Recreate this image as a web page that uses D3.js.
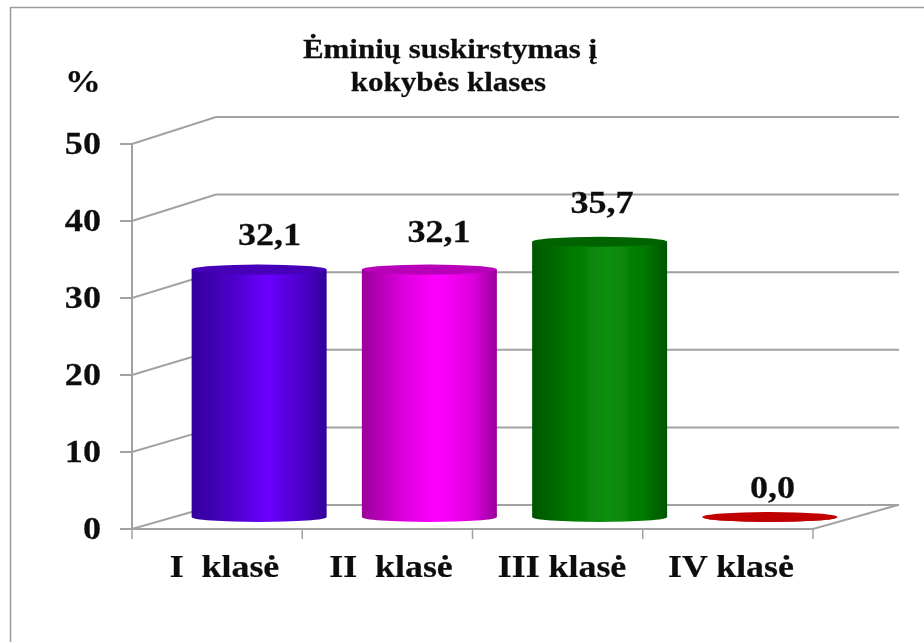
<!DOCTYPE html>
<html lang="en">
<head>
    <meta charset="UTF-8">
    <title>Eminiu suskirstymas</title>
    <script src="https://cdn.jsdelivr.net/npm/d3@7"></script>
    <style>
        html, body { margin: 0; padding: 0; background: #fff; }
        svg { display: block; }
        text { font-family: "Liberation Serif", serif; font-weight: bold; fill: #111; stroke: #111; stroke-width: 0.25px; }
    </style>
</head>
<body>
<div id="chart"></div>
<script>
    var categories = ['I  klasė', 'II  klasė', 'III klasė', 'IV klasė'];
    var values = [32.1, 32.1, 35.7, 0.0];
    var valueLabels = ['32,1', '32,1', '35,7', '0,0'];
    var yTicks = [0, 10, 20, 30, 40, 50];
    var titleLines = ['Ėminių suskirstymas į', 'kokybės klases'];
    // edge, mid, centre colour of each cylinder, then its top cap
    var barColors = [
        ['#32009a', '#4c00c8', '#6a06ff', '#4400b8'],
        ['#9a009a', '#dc00dc', '#ff00ff', '#b800b8'],
        ['#005400', '#007a00', '#0f900f', '#006400'],
        ['#c00000', '#c00000', '#c80000', '#c00000']
    ];

    var w = 924, h = 642;
    var grid = '#a2a2a2';
    var depthX = 84;

    var svg = d3.select('#chart').append('svg').attr('width', w).attr('height', h);
    var defs = svg.append('defs');
    // the reference is a slightly soft screenshot
    defs.append('filter').attr('id', 'soft')
        .attr('filterUnits', 'userSpaceOnUse')
        .attr('x', 0).attr('y', 0).attr('width', w).attr('height', h)
        .append('feGaussianBlur').attr('stdDeviation', 0.5);
    var root = svg.append('g').attr('filter', 'url(#soft)');

    // front plane and back wall have their own y scales
    var yFront = d3.scaleLinear().domain([0, 50]).range([529, 144]);
    var yBack = d3.scaleLinear().domain([0, 50]).range([505, 117]);
    var yBar = d3.scaleLinear().domain([0, 50]).range([517, 131.5]);
    var x = d3.scaleBand().domain(categories).range([132, 813]);
    var barW = 135;
    var capRy = 5;

    // picture frame
    root.append('path')
        .attr('d', 'M924,7.5H10.5V642')
        .attr('fill', 'none').attr('stroke', '#9a9a9a').attr('stroke-width', 1.5);

    // side wall + back wall gridlines
    root.selectAll('.grid').data(yTicks).enter().append('path')
        .attr('class', 'grid')
        .attr('fill', 'none').attr('stroke', grid).attr('stroke-width', 2)
        .attr('d', function(d) {
            return 'M120,' + yFront(d) + 'H132L216,' + yBack(d) + 'H899';
        });

    // left vertical, floor front edge and right floor edge
    root.append('line')
        .attr('x1', 132).attr('x2', 132)
        .attr('y1', yFront(50)).attr('y2', yFront(0))
        .attr('stroke', grid).attr('stroke-width', 2);
    root.append('path')
        .attr('d', 'M132,' + yFront(0) + 'H813L898,' + yBack(0))
        .attr('fill', 'none').attr('stroke', grid).attr('stroke-width', 2);

    // x ticks
    root.selectAll('.xtick').data(d3.range(5)).enter().append('line')
        .attr('class', 'xtick')
        .attr('x1', function(d) { return 132 + d * x.step(); })
        .attr('x2', function(d) { return 132 + d * x.step(); })
        .attr('y1', yFront(0)).attr('y2', 539)
        .attr('stroke', grid).attr('stroke-width', 1.5);

    // cylinders
    barColors.forEach(function(c, i) {
        var g = defs.append('linearGradient').attr('id', 'cyl' + i);
        [[0, c[0]], [0.3, c[1]], [0.56, c[2]], [0.82, c[1]], [1, c[0]]].forEach(function(s) {
            g.append('stop').attr('offset', s[0]).attr('stop-color', s[1]);
        });
    });

    function barX(i) {
        return x(categories[i]) + x.bandwidth() / 2 + depthX / 2;
    }

    var bars = root.selectAll('.bar').data(values).enter().append('g').attr('class', 'bar');
    bars.append('path')
        .attr('fill', function(d, i) { return 'url(#cyl' + i + ')'; })
        .attr('d', function(d, i) {
            var cx = barX(i);
            var top = yBar(d), base = yBar(0), r = barW / 2;
            return 'M' + (cx - r) + ',' + top +
                'V' + base +
                'A' + r + ',' + capRy + ' 0 0 0 ' + (cx + r) + ',' + base +
                'V' + top + 'Z';
        });
    bars.append('ellipse')
        .attr('cx', function(d, i) { return barX(i); })
        .attr('cy', function(d) { return yBar(d); })
        .attr('rx', barW / 2).attr('ry', capRy)
        .attr('fill', function(d, i) { return barColors[i][3]; });

    // all text in the reference is stretched sideways
    function place(px, py, sx) {
        return 'translate(' + px + ',' + py + ') scale(' + sx + ',1)';
    }

    // value labels
    root.selectAll('.val').data(valueLabels).enter().append('text')
        .attr('class', 'val')
        .attr('text-anchor', 'middle')
        .attr('font-size', 32)
        .attr('transform', function(d, i) {
            return place([269.5, 439, 602, 772.5][i], [245, 242, 213, 498][i], 1.13);
        })
        .text(function(d) { return d; });

    // y tick labels
    root.selectAll('.ylab').data(yTicks).enter().append('text')
        .attr('class', 'ylab')
        .attr('text-anchor', 'end')
        .attr('font-size', 32)
        .attr('transform', function(d) { return place(101, yFront(d) + 10, 1.13); })
        .text(function(d) { return d; });

    // category labels
    root.selectAll('.cat').data(categories).enter().append('text')
        .attr('class', 'cat')
        .attr('text-anchor', 'middle')
        .attr('font-size', 32)
        .style('white-space', 'pre')
        .attr('transform', function(d, i) { return place([224.5, 391, 562, 731][i], 577, 1.12); })
        .text(function(d) { return d; });

    root.append('text')
        .attr('text-anchor', 'middle').attr('font-size', 32)
        .attr('transform', place(83, 92, 1.12))
        .text('%');

    root.selectAll('.title').data(titleLines).enter().append('text')
        .attr('class', 'title')
        .attr('text-anchor', 'middle')
        .attr('font-size', 27)
        .attr('transform', function(d, i) { return place([450, 448.5][i], 58 + i * 33, 1.147); })
        .text(function(d) { return d; });
</script>
</body>
</html>
